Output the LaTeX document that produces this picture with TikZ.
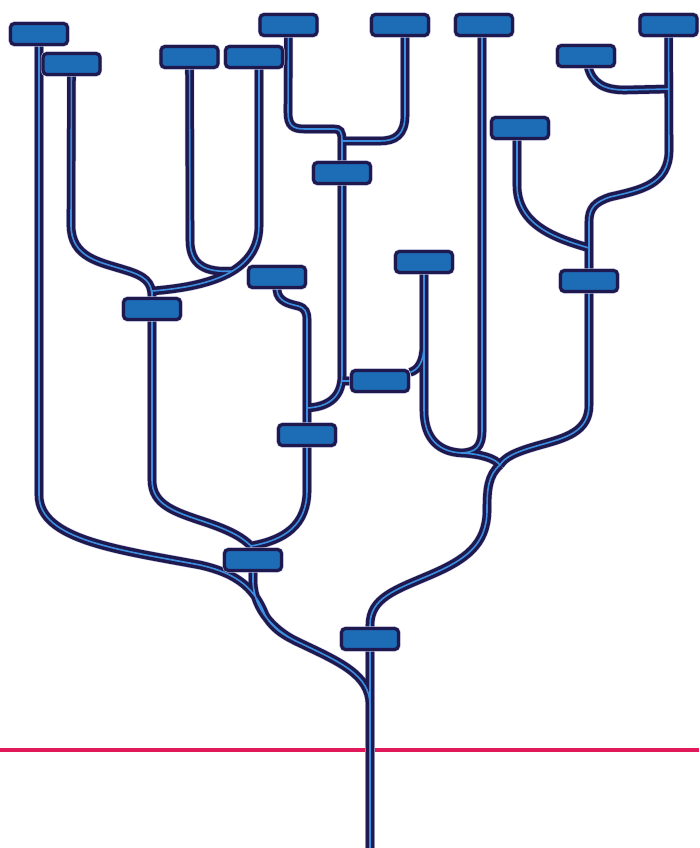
\documentclass[tikz,border=0pt]{standalone}
\usetikzlibrary{backgrounds}
\definecolor{wire}{HTML}{1E1A4F}
\definecolor{core}{HTML}{3B8EE0}
\definecolor{halo}{HTML}{CBC8E4}
\definecolor{boxblue}{HTML}{1C6CB6}
\definecolor{redline}{HTML}{E0195A}
\begin{document}
\begin{tikzpicture}[x=1pt, y=-1pt,
  box/.style={rectangle, rounded corners=4pt, draw=wire, line width=3.2pt, fill=boxblue,
    minimum width=57pt, minimum height=21pt, inner sep=0pt,
    preaction={draw=halo, line width=4.4pt}}]
  \useasboundingbox (0,0) rectangle (699,848);
  % Boxes, top row first
  \node[box] (a) at (39,34) {};
  \node[box] (b) at (71.5,64) {};
  \node[box] (c) at (189.5,57) {};
  \node[box] (d) at (254,57) {};
  \node[box] (e) at (288.5,25) {};
  \node[box] (f) at (400,25) {};
  \node[box] (g) at (484,25) {};
  \node[box] (h) at (668.5,25) {};
  \node[box] (i) at (586,56) {};
  \node[box] (j) at (520,128) {};
  \node[box] (k) at (342,173) {};
  \node[box] (l) at (424,262) {};
  \node[box] (m) at (277,277) {};
  \node[box] (n) at (152,309) {};
  \node[box] (o) at (589,281) {};
  \node[box] (p) at (380,381) {};
  \node[box] (q) at (307,435) {};
  \node[box] (r) at (253,560) {};
  \node[box] (s) at (370,639) {};
  % Junctions where branches meet
  \coordinate (rt) at (300,643);
  \coordinate (base) at (370,848);
  \coordinate (js) at (500,465);
  \coordinate (gl) at (462,453);
  \coordinate (mq) at (307,408);
  \coordinate (nr) at (251,546);
  \coordinate (dn) at (152,291);
  \coordinate (cd) at (233,271);
  \coordinate (ek) at (342,141);
  \coordinate (jo) at (589,248);
  \coordinate (ih) at (669,89);
  \begin{scope}[on background layer]
    \draw[redline, line width=3.5pt] (0,750) -- (699,750);
    % Wires: halo, dark body, then the thin light core
    \foreach \w/\c in {9.6pt/halo, 8.6pt/wire, 1.6pt/core} {
      \draw[line width=\w, draw=\c]
        (a) -- (39,495) .. controls (39,540) and (120,550) .. (200,565)
            .. controls (240,574) and (255,590) .. (265,615) .. controls (275,632) and (290,638) .. (rt)
        (r) -- (253,582) .. controls (254,610) and (275,632) .. (rt)
            .. controls (340,662) and (370,675) .. (370,705) -- (base)
        (s) -- (base)
        (js) .. controls (488,475) and (487,490) .. (487,510) .. controls (487,545) and (465,560) .. (430,575)
            .. controls (395,590) and (370,598) .. (370,625) -- (s)
        (o) -- (589,405) .. controls (589,432) and (565,438) .. (540,445)
            .. controls (515,452) and (505,457) .. (js)
        (l) -- (424,410) .. controls (424,440) and (440,452) .. (gl) .. controls (480,454) and (495,458) .. (js)
        ([xshift=-2pt]g.center) -- (482,430) .. controls (482,448) and (475,452) .. (gl)
        (l) -- (424,345) .. controls (424,362) and (418,370) .. (p)
        (p) -- (p -| k)
        (k) -- (342,375) .. controls (342,400) and (325,407) .. (mq)
        (m) -- (277,290) .. controls (278,302) and (290,304) .. (298,306)
            .. controls (305,308) and (307,312) .. (307,320) -- (q)
        (q) -- (307,490) .. controls (307,525) and (285,540) .. (nr)
        (n) -- (152,480) .. controls (152,505) and (175,512) .. (205,522)
            .. controls (232,531) and (243,538) .. (nr) -- (r)
        (b) -- (71,225) .. controls (71,258) and (100,262) .. (125,270)
            .. controls (145,276) and (152,282) .. (n)
        ([xshift=5pt]d.center) -- (259,225) .. controls (259,262) and (230,285) .. (dn) -- (n)
        (c) -- (190,240) .. controls (190,265) and (205,273) .. (cd)
        (e) -- (288,112) .. controls (288,126) and (293,129) .. (305,129) -- (334,129)
            .. controls (340,129) and (342,131) .. (ek) -- (k)
        ([xshift=5pt]f.center) -- (405,115) .. controls (405,135) and (395,141) .. (380,141) -- (ek)
        (h) -- (669,150) .. controls (669,185) and (640,190) .. (610,197)
            .. controls (595,202) and (589,208) .. (589,222) -- (o)
        ([xshift=-3pt]j.center) -- (517,185) .. controls (517,225) and (555,238) .. (jo)
        ([xshift=2pt]i.center) -- (588,66) .. controls (592,84) and (605,90) .. (625,90) -- (ih);
    }
  \end{scope}
\end{tikzpicture}
\end{document}
